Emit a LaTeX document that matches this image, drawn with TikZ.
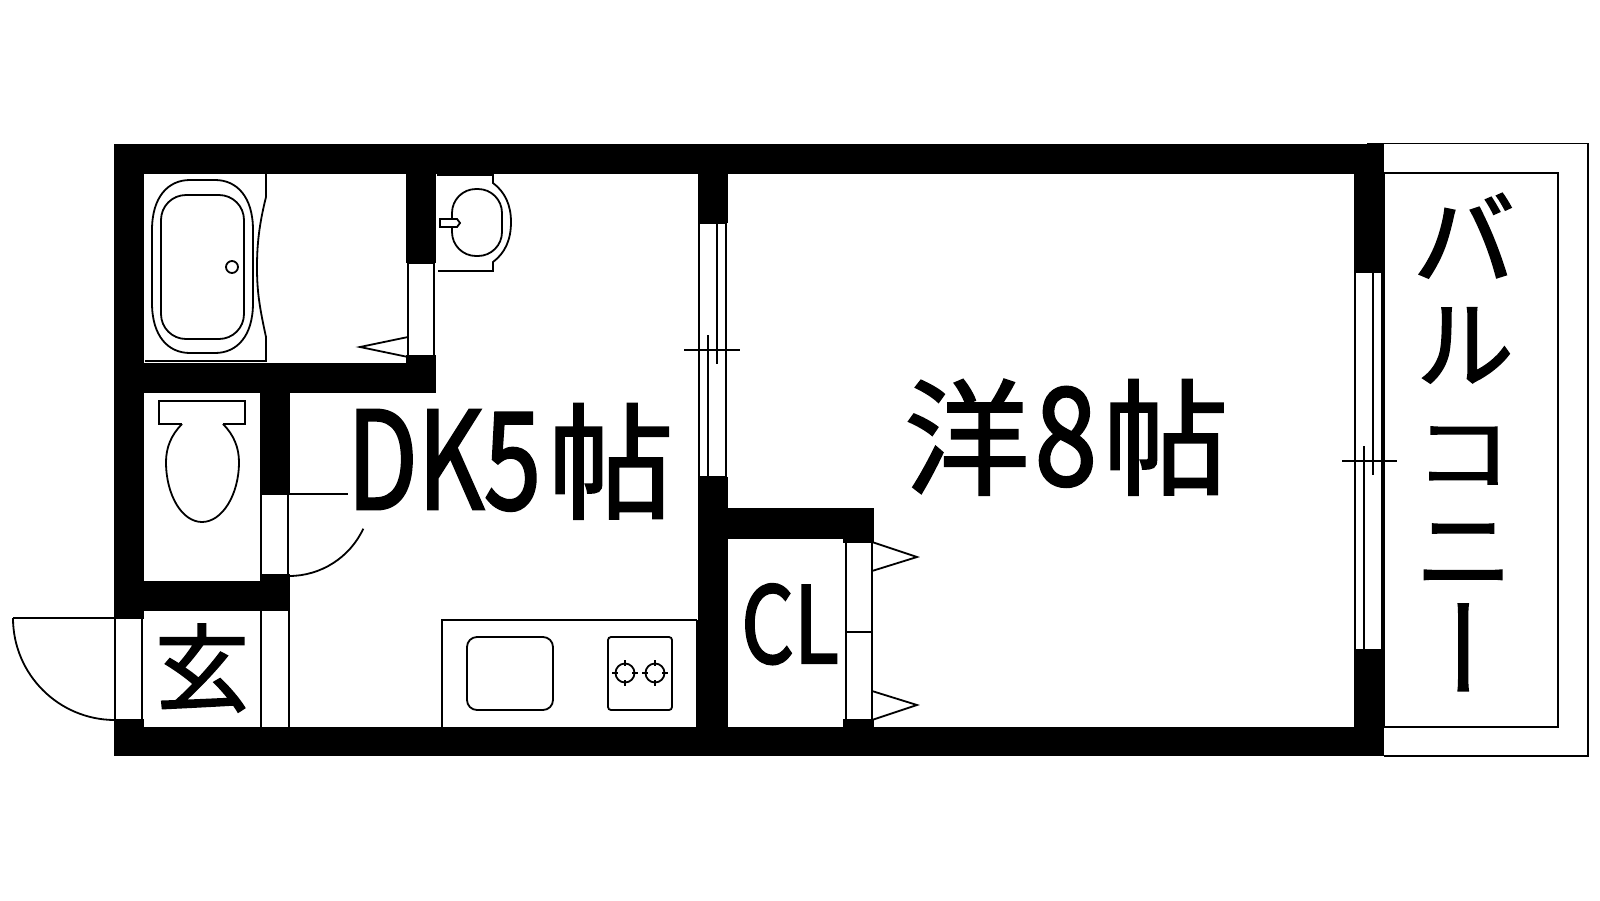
\documentclass[tikz,border=0pt]{standalone}
\usepackage{fontspec}
\newfontfamily\cjk[FakeBold=1.6]{Noto Sans CJK JP}
\newfontfamily\cjkl[FakeBold=2.2]{Noto Sans CJK JP}
\newfontfamily\cjkv[RawFeature=+vert,FakeBold=1.8]{Noto Sans CJK JP}
\newcommand{\squeeze}[2]{\scalebox{#1}[1]{{\cjkl #2}}}
\newcommand{\kanji}[1]{\scalebox{.93}{#1}}
\tikzset{
  wall/.style={fill=black},
  thin line/.style={draw=black,line width=1.8pt},
  room label/.style={inner sep=0pt,anchor=base west,font=\cjk\fontsize{135}{135}\selectfont},
}
\begin{document}
\begin{tikzpicture}[x=1pt,y=-1pt]
\useasboundingbox (0,0) rectangle (1600,900);
\begin{scope}[thin line]
\draw (1367,143.5) -- (1588,143.5) -- (1588,756) -- (1384,756);
\draw (1384,173) rectangle (1558,727);
\end{scope}
\foreach \xa/\ya/\xb/\yb in {114/144/1384/174,114/144/144/619,114/719/144/756,114/727/1384/756,
  144/363/436/393,406/174/436/263,406/355/436/393,260/393/290/494,260/574/290/611,144/581/290/611,
  698/144/728/223,698/477/728/756,728/508/874/539,843/539/874/543,843/719/874/727,
  1354/144/1384/272,1354/650/1384/756}
  \fill[wall] (\xa,\ya) rectangle (\xb,\yb);
\begin{scope}[thin line]
% bath
\draw (145,361) -- (266,361) -- (266,337) .. controls (259,305) and (257,290) .. (257,267) .. controls (257,245) and (259,225) .. (266,197) -- (266,174);
\draw (152,230) .. controls (152,197) and (168,180) .. (190,180) -- (215,180) .. controls (237,180) and (253,197) .. (253,230) -- (253,303) .. controls (253,336) and (237,353) .. (215,353) -- (190,353) .. controls (168,353) and (152,336) .. (152,303) -- cycle;
\draw[rounded corners=25] (161,195) rectangle (244,339);
\draw (232,267) circle[radius=6];
\draw (408,263) -- (434,263);
\draw (408,263) -- (408,355);
\draw (434,263) -- (434,355);
\draw (408,337) -- (360,347) -- (408,357);
% washbasin
\draw (437,175) -- (493,175) -- (493,183) .. controls (505,192) and (511,205) .. (511,222) .. controls (511,240) and (505,253) .. (493,262) -- (493,271) -- (438,271);
\draw[rounded corners=24] (452,189) rectangle (502,256);
\draw[fill=white] (440,219) -- (457,219) -- (460,223) -- (457,227) -- (440,227) -- cycle;
% toilet
\draw (182,424) -- (159,424) -- (159,401) -- (245,401) -- (245,424) -- (223,424);
\draw (182,424) .. controls (171,435) and (166,448) .. (166,462) .. controls (166,495) and (182,522) .. (202,522) .. controls (222,522) and (239,495) .. (239,462) .. controls (239,448) and (234,435) .. (223,424);
\draw (261,494) -- (348,494);
\draw (261,494) -- (261,574);
\draw (288,494) -- (288,574);
\draw (289,576) arc[start angle=90,end angle=25,radius=82];
% entrance
\draw (261,611) -- (261,727);
\draw (289,611) -- (289,727);
\draw (13,618) -- (115,618);
\draw (115,618) -- (115,720);
\draw (142,619) -- (142,719);
\draw (115,720) arc[start angle=90,end angle=180,radius=102];
% kitchen
\draw (442,727) -- (442,620) -- (697,620);
\draw (697,620) -- (697,727);
\draw[rounded corners=10] (467,637) rectangle (553,710);
\draw[rounded corners=3] (608,637) rectangle (672,710);
\foreach \x in {625,655} {
  \draw (\x,673) circle[radius=9.5];
  \draw (\x-13,673) -- (\x-7,673);
  \draw (\x+7,673) -- (\x+13,673);
  \draw (\x,660) -- (\x,666);
  \draw (\x,680) -- (\x,686);
}
\end{scope}
% windows
\begin{scope}[thin line]
\foreach \xo/\ya/\yb/\yc/\yd/\cy/\xl/\xr in {698/223/477/335/364/350/684/740,1354/272/650/446/475/461/1342/1397} {
  \draw (\xo+1,\ya) -- (\xo+1,\yb);
  \draw (\xo+28,\ya) -- (\xo+28,\yb);
  \draw (\xo+1,\ya) -- (\xo+28,\ya);
  \draw (\xo+1,\yb) -- (\xo+28,\yb);
  \draw (\xo+10,\yc) -- (\xo+10,\yb);
  \draw (\xo+19,\ya) -- (\xo+19,\yd);
  \draw (\xl,\cy) -- (\xr,\cy);
}
% closet
\draw (846,543) -- (846,719);
\draw (872,543) -- (872,719);
\draw (846,632) -- (872,632);
\draw (872,542) -- (917,557) -- (872,571);
\draw (872,691) -- (917,705) -- (872,720);
\end{scope}
\node[room label] (dk) at (347,509) {\squeeze{.76}{DK5}\hspace{7pt}\kanji{帖}};
\node[room label] (western) at (904,485) {\kanji{洋}\hspace{5pt}\squeeze{.83}{8}\hspace{6pt}\kanji{帖}};
\node[room label,font=\cjk\fontsize{106}{106}\selectfont] (cl) at (741,663) {\squeeze{.78}{CL}};
\node[inner sep=0pt,font=\cjk\fontsize{95}{95}\selectfont] (entry) at (202,668) {玄};
\node[inner sep=0pt,align=center,font=\cjkv\fontsize{100}{103}\selectfont] (balcony) at (1464,442) {\scalebox{1.05}{バ}\\ル\\\scalebox{1}[.85]{コ}\\ニ\\\scalebox{1}[1.1]{ー}};
\end{tikzpicture}
\end{document}
